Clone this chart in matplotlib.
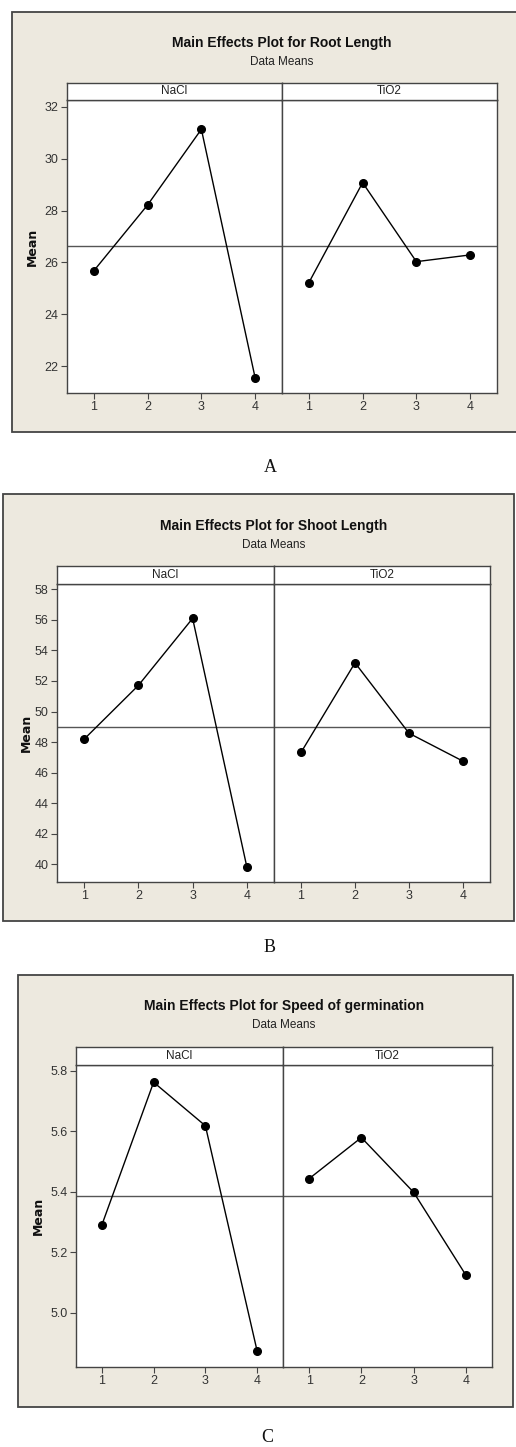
import numpy as np
import matplotlib
matplotlib.use("Agg")
import matplotlib.pyplot as plt
from matplotlib.patches import Rectangle

levels = [1, 2, 3, 4]
factors = ["NaCl", "TiO2"]

root_nacl = [25.68, 28.22, 31.14, 21.55]
root_tio2 = [25.22, 29.08, 26.03, 26.29]
shoot_nacl = [48.19, 51.71, 56.10, 39.82]
shoot_tio2 = [47.32, 53.19, 48.58, 46.75]
speed_nacl = [5.290, 5.762, 5.618, 4.873]
speed_tio2 = [5.443, 5.579, 5.398, 5.124]

titles = ["Main Effects Plot for Root Length",
          "Main Effects Plot for Shoot Length",
          "Main Effects Plot for Speed of germination"]
letters = ["A", "B", "C"]

W, H = 516, 1447
BEIGE = "#ede9df"
EDGE = "#444444"

narrow = ["Liberation Sans Narrow", "Liberation Sans", "DejaVu Sans"]

fig = plt.figure(figsize=(W / 100, H / 100), dpi=100)
fig.patch.set_facecolor("white")


def rect(l, t, r, b):
    # pixel box (from top-left) -> figure fraction
    return [l / W, 1 - b / H, (r - l) / W, (b - t) / H]


def panel(outer, plot, data, ylim, yticks, fmt, title, title_y, ylab_x, letter, letter_pos):
    ol, ot, orr, ob = outer
    fig.patches.append(Rectangle((ol / W, 1 - ob / H), (orr - ol) / W, (ob - ot) / H,
                                 transform=fig.transFigure, facecolor=BEIGE,
                                 edgecolor=EDGE, lw=1.3, zorder=-5))
    left, right, div, strip_top, strip_bot, bottom = plot
    cx = (left + right) / 2
    fig.text(cx / W, 1 - title_y / H, title, ha="center", va="center",
             fontsize=10, fontweight="bold", family=narrow, color="#111111")
    fig.text(cx / W, 1 - (title_y + 19) / H, "Data Means", ha="center", va="center",
             fontsize=8.5, family=narrow, color="#222222")

    grand = np.mean(np.concatenate([data[0], data[1]]))
    for i, (x0, x1) in enumerate([(left, div), (div, right)]):
        ax = fig.add_axes(rect(x0, strip_bot, x1, bottom))
        ax.set_facecolor("white")
        ax.plot(levels, data[i], color="black", lw=1, marker="o", ms=5.5, zorder=3)
        ax.axhline(grand, color="#555555", lw=1, zorder=2)
        ax.set_xlim(0.5, 4.5)
        ax.set_ylim(*ylim)
        ax.set_xticks(levels)
        ax.set_yticks(yticks)
        ax.set_yticklabels([fmt % v for v in yticks])
        for s in ax.spines.values():
            s.set_color(EDGE)
            s.set_linewidth(1)
        ax.tick_params(direction="out", length=4, width=0.8, color=EDGE,
                       labelsize=9, labelcolor="#333333", pad=2)
        for lab in ax.get_xticklabels() + ax.get_yticklabels():
            lab.set_family(narrow)
        if i == 1:
            ax.tick_params(axis="y", left=False, labelleft=False)

        st = fig.add_axes(rect(x0, strip_top, x1, strip_bot))
        st.set_facecolor("white")
        st.set_xticks([])
        st.set_yticks([])
        for s in st.spines.values():
            s.set_color(EDGE)
            s.set_linewidth(1)
        st.text(0.5, 0.5, factors[i], ha="center", va="center", fontsize=8.5,
                family=narrow, color="#222222", transform=st.transAxes)

    fig.text(ylab_x / W, 1 - ((strip_bot + bottom) / 2) / H, "Mean", rotation=90,
             ha="center", va="center", fontsize=9, fontweight="bold", color="#111111")
    fig.text(letter_pos[0] / W, 1 - letter_pos[1] / H, letter, ha="center", va="center",
             fontsize=13, family=["Liberation Serif", "DejaVu Serif"], color="#111111")


panel((12, 12, 520, 432), (67, 497, 282, 83, 100, 393), (root_nacl, root_tio2),
      (20.96, 32.27), [22, 24, 26, 28, 30, 32], "%d", titles[0], 43, 32, letters[0], (270, 467))

panel((3, 494, 514, 921), (57, 490, 274, 566, 584, 882), (shoot_nacl, shoot_tio2),
      (38.84, 58.35), list(range(40, 59, 2)), "%d", titles[1], 526, 26, letters[1], (270, 947))

panel((18, 975, 513, 1407), (76, 492, 283, 1047, 1065, 1367), (speed_nacl, speed_tio2),
      (4.82, 5.819), [5.0, 5.2, 5.4, 5.6, 5.8], "%.1f", titles[2], 1006, 38, letters[2], (267, 1438))

fig.savefig("out.png", dpi=100)
